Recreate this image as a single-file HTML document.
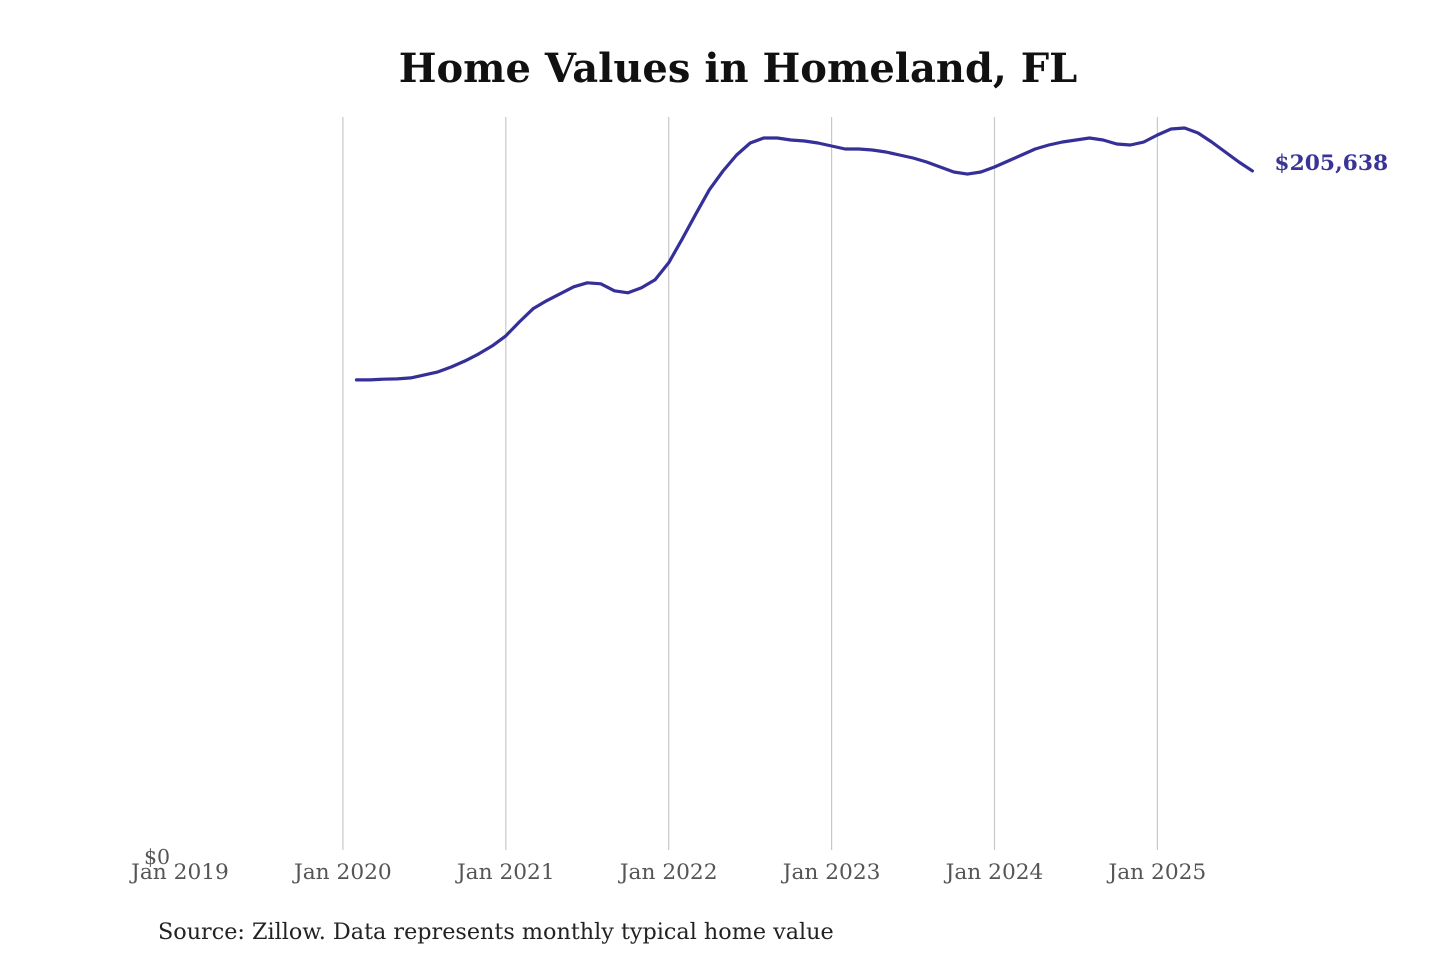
<!DOCTYPE html>
<html><head><meta charset="utf-8"><style>
body{margin:0;background:#fff;width:1440px;height:960px;overflow:hidden}
svg text{font-family:"DejaVu Serif","Liberation Serif",serif}
</style></head><body>
<svg id="chart" width="1440" height="960" xmlns="http://www.w3.org/2000/svg">
<text x="738" y="82" text-anchor="middle" font-size="40" font-weight="bold" fill="#111">Home Values in Homeland, FL</text>
<g id="grid"></g><g id="ticks"></g>
<text x="157" y="864" text-anchor="middle" font-size="20.5" fill="#555">$0</text>
<path id="line" fill="none" stroke="#352f98" stroke-width="3.2" stroke-linejoin="round" stroke-linecap="round"/>
<text id="lastLabel" font-size="21.8" font-weight="bold" fill="#3a3496"></text>
<text x="158" y="939" font-size="22.3" fill="#222">Source: Zillow. Data represents monthly typical home value</text>
</svg>
<script>
const tickLabels=["Jan 2019","Jan 2020","Jan 2021","Jan 2022","Jan 2023","Jan 2024","Jan 2025"];
const startMonth=13; // Feb 2020, months since Jan 2019
const values=[143.0,143.0,143.2,143.3,143.6,144.5,145.4,146.9,148.7,150.8,153.2,156.2,160.4,164.3,166.7,168.8,170.9,172.1,171.8,169.7,169.1,170.6,173.0,178.1,185.3,192.8,200.0,205.6,210.4,214.0,215.5,215.5,214.9,214.6,214.0,213.1,212.2,212.2,211.9,211.3,210.4,209.5,208.3,206.8,205.3,204.7,205.3,206.8,208.6,210.4,212.2,213.4,214.3,214.9,215.5,214.9,213.7,213.4,214.3,216.4,218.2,218.5,217.0,214.3,211.3,208.3,205.638];
const yMax=221.8;
const x=m=>180+m*(162.9/12);
const y=v=>857-v/yMax*740;
const ns="http://www.w3.org/2000/svg";
const grid=document.getElementById('grid'),ticks=document.getElementById('ticks');
tickLabels.forEach((t,i)=>{
  const xx=x(i*12);
  if(i>0){const l=document.createElementNS(ns,'line');
  
  
  l.setAttribute('x1',xx);l.setAttribute('x2',xx);l.setAttribute('y1',117);l.setAttribute('y2',850);
  l.setAttribute('stroke','#c8c8c8');l.setAttribute('stroke-width','1.2');grid.appendChild(l);}
  const tx=document.createElementNS(ns,'text');
  
  
  tx.setAttribute('x',xx);tx.setAttribute('y',879);tx.setAttribute('text-anchor','middle');
  tx.setAttribute('font-size','21.7');tx.setAttribute('fill','#555');tx.textContent=t;ticks.appendChild(tx);
});
let d='';
values.forEach((v,i)=>{d+=(i?'L':'M')+x(startMonth+i).toFixed(1)+','+y(v).toFixed(1);});
document.getElementById('line').setAttribute('d',d);
const lv=values[values.length-1],lb=document.getElementById('lastLabel');
lb.setAttribute('x',x(startMonth+values.length-1)+22);lb.setAttribute('y',y(lv)-1);
lb.textContent='$'+Math.round(lv*1000).toLocaleString('en-US');
</script>
</body></html>
